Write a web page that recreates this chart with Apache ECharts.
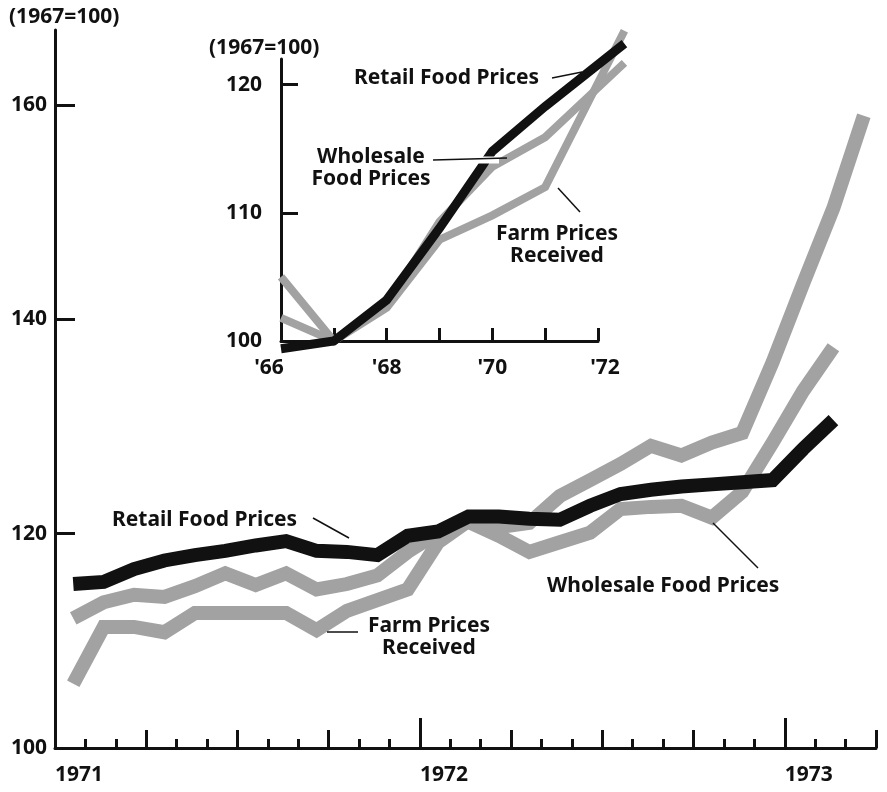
<!DOCTYPE html>
<html>
<head>
<meta charset="utf-8">
<title>Food prices 1971-73</title>
<script src="https://cdn.jsdelivr.net/npm/echarts@6/dist/echarts.min.js"></script>
<style>
html, body { margin: 0; padding: 0; background: #fff; }
#chart { width: 887px; height: 792px; }
</style>
</head>
<body>
<div id="chart"></div>
<script>
// monthly indexes, 1967=100
const months = [
  'Jan 71', 'Feb 71', 'Mar 71', 'Apr 71', 'May 71', 'Jun 71', 'Jul 71', 'Aug 71', 'Sep 71', 'Oct 71', 'Nov 71', 'Dec 71',
  'Jan 72', 'Feb 72', 'Mar 72', 'Apr 72', 'May 72', 'Jun 72', 'Jul 72', 'Aug 72', 'Sep 72', 'Oct 72', 'Nov 72', 'Dec 72',
  'Jan 73', 'Feb 73', 'Mar 73'
]
const retail = [115.3, 115.5, 116.7, 117.5, 118.0, 118.4, 118.9, 119.3, 118.4, 118.3, 118.0, 119.8,
  120.2, 121.6, 121.6, 121.4, 121.3, 122.6, 123.7, 124.1, 124.4, 124.6, 124.8, 125.0, 127.9, 130.6]
const wholesale = [112.1, 113.6, 114.3, 114.1, 115.1, 116.3, 115.2, 116.3, 114.8, 115.3, 116.1, 118.3,
  120.1, 121.1, 119.8, 118.3, 119.2, 120.1, 122.3, 122.5, 122.6, 121.5, 123.9, 128.5, 133.3, 137.4]
const farm = [106.0, 111.3, 111.3, 110.8, 112.6, 112.6, 112.6, 112.6, 111.0, 112.8, 113.8, 114.8,
  119.2, 121.2, 120.6, 121.0, 123.5, 125.0, 126.5, 128.2, 127.3, 128.5, 129.4, 136.0, 143.3, 150.4, 159.0]

const yTicks = [100, 120, 140, 160]
const yearStarts = [0, 12, 24]          // month index where each year begins
const yearLabels = ['1971', '1972', '1973']

// inset: annual averages 1966-72 (last point is drawn past the '72 tick in the original)
const insetYears = [1966, 1967, 1968, 1969, 1970, 1971, 1972.5]
const insetRetail = [99.4, 100.0, 103.2, 108.8, 114.8, 118.3, 123.2]
const insetWholesale = [101.8, 100.0, 102.8, 109.3, 113.6, 115.9, 121.7]
const insetFarm = [105.0, 100.0, 102.6, 107.9, 109.8, 112.0, 124.2]
const insetYTicks = [100, 110, 120]
const insetXTicks = [1967, 1968, 1969, 1970, 1971, 1972]
const insetXLabels = { 1966: "'66", 1968: "'68", 1970: "'70", 1972: "'72" }

const FONT = 'Noto Sans'
const FS = 21
const INK = '#111'
const GRAY = '#a2a2a2'

// points sit a little past mid-month, as plotted in the original
const monthX = months.map((m, i) => i + 0.6)
const pairs = (arr, xs) => arr.map((v, i) => [xs[i], v])

const chart = echarts.init(document.getElementById('chart'))

const labelStyle = { color: INK, fontFamily: FONT, fontWeight: 'bold', fontSize: FS }

// inset frame: 1966..1972 by 100..122 in a 317 x 282 box
// the lines run past that frame, so they get their own hidden axes on the same scale
const IN_LEFT = 281, IN_BOTTOM = 341
const pxYear = 317 / 6, pxUnit = 282 / 22
const dataX = [1965.9, 1972.7], dataY = [99, 124.6]

function tickAxis(values, len, extra) {
  return Object.assign({
    type: 'value', gridIndex: 0, position: 'bottom', min: 0, max: 27,
    axisLine: { show: false },
    axisTick: { show: true, inside: true, length: len, customValues: values, lineStyle: { color: INK, width: 3 } },
    axisLabel: { show: false },
    splitLine: { show: false }
  }, extra || {})
}

const hidden = { axisLine: { show: false }, axisTick: { show: false }, axisLabel: { show: false }, splitLine: { show: false } }

const monthTicks = months.map((m, i) => i).concat([months.length])
const quarterTicks = monthTicks.filter(v => v % 3 === 0)

function lineSeries(name, data, xi, yi, color, width, z) {
  return {
    name, type: 'line', data, xAxisIndex: xi, yAxisIndex: yi,
    showSymbol: false, symbol: 'none', clip: false, silent: true, z,
    lineStyle: { color, width, join: 'miter', cap: 'butt' }
  }
}

// the end labels of the inset sit a bit outside their ticks
function insetLabel(v) {
  const t = insetXLabels[v] || ''
  if (v === 1966) return '{l|' + t + '}'
  if (v === 1972) return '{r|' + t + '}'
  return t
}

const option = {
  animation: false,
  backgroundColor: '#fff',
  grid: [
    { left: 55, top: 30, right: 11, bottom: 44, outerBoundsMode: 'none' },
    { left: IN_LEFT, top: IN_BOTTOM - 22 * pxUnit, width: 317, height: 282, outerBoundsMode: 'none' },
    {
      left: IN_LEFT - (1966 - dataX[0]) * pxYear,
      top: IN_BOTTOM - (dataY[1] - 100) * pxUnit,
      width: (dataX[1] - dataX[0]) * pxYear,
      height: (dataY[1] - dataY[0]) * pxUnit,
      outerBoundsMode: 'none'
    }
  ],
  xAxis: [
    tickAxis(monthTicks, 9, {
      axisLine: { show: true, lineStyle: { color: INK, width: 3 } },
      axisLabel: Object.assign({
        show: true, customValues: yearStarts, align: 'left', margin: 17,
        formatter: v => yearLabels[yearStarts.indexOf(v)] || ''
      }, labelStyle)
    }),
    tickAxis(quarterTicks, 18),
    tickAxis(yearStarts, 30),
    {
      type: 'value', gridIndex: 1, position: 'bottom', min: 1966, max: 1972,
      axisLine: { show: true, lineStyle: { color: INK, width: 3 } },
      axisTick: { show: true, inside: true, length: 13, customValues: insetXTicks, lineStyle: { color: INK, width: 3 } },
      axisLabel: Object.assign({
        show: true, customValues: [1966, 1968, 1970, 1972], margin: 17,
        formatter: insetLabel,
        rich: {
          l: Object.assign({ padding: [0, 24, 0, 0] }, labelStyle),
          r: Object.assign({ padding: [0, 0, 0, 14] }, labelStyle)
        }
      }, labelStyle),
      splitLine: { show: false }
    },
    Object.assign({ type: 'value', gridIndex: 2, position: 'bottom', min: dataX[0], max: dataX[1] }, hidden)
  ],
  yAxis: [
    {
      type: 'value', gridIndex: 0, min: 100, max: 167,
      axisLine: { show: true, lineStyle: { color: INK, width: 3 } },
      axisTick: { show: true, inside: true, length: 20, customValues: yTicks.slice(1), lineStyle: { color: INK, width: 3 } },
      axisLabel: Object.assign({ customValues: yTicks, margin: 8 }, labelStyle),
      splitLine: { show: false }
    },
    {
      type: 'value', gridIndex: 1, min: 100, max: 122,
      axisLine: { show: true, lineStyle: { color: INK, width: 3 } },
      axisTick: { show: true, inside: true, length: 17, customValues: insetYTicks.slice(1), lineStyle: { color: INK, width: 3 } },
      axisLabel: Object.assign({ customValues: insetYTicks, margin: 19 }, labelStyle),
      splitLine: { show: false }
    },
    Object.assign({ type: 'value', gridIndex: 2, min: dataY[0], max: dataY[1] }, hidden)
  ],
  series: [
    lineSeries('Farm Prices Received', pairs(farm, monthX), 0, 0, GRAY, 14, 2),
    lineSeries('Wholesale Food Prices', pairs(wholesale, monthX), 0, 0, GRAY, 14, 3),
    lineSeries('Retail Food Prices', pairs(retail, monthX), 0, 0, INK, 14, 4),
    lineSeries('Farm Prices Received (annual)', pairs(insetFarm, insetYears), 4, 2, GRAY, 8, 2),
    lineSeries('Wholesale Food Prices (annual)', pairs(insetWholesale, insetYears), 4, 2, GRAY, 8, 3),
    lineSeries('Retail Food Prices (annual)', pairs(insetRetail, insetYears), 4, 2, INK, 9, 4)
  ],
  graphic: [
    // text labels and leader lines
    txt('(1967=100)', 9, 17, 'left'),
    txt('Retail Food Prices', 112, 520, 'left'),
    lead(313, 518, 349, 538),
    txt('Farm Prices\nReceived', 429, 637, 'center'),
    lead(327, 632, 358, 632),
    txt('Wholesale Food Prices', 547, 586, 'left'),
    lead(713, 523, 758, 568),

    txt('(1967=100)', 209, 48, 'left'),
    txt('Retail Food Prices', 354, 78, 'left'),
    lead(552, 78, 582, 72),
    txt('Wholesale\nFood Prices', 371, 168, 'center'),
    { type: 'line', z: 99, shape: { x1: 477, y1: 160, x2: 499, y2: 160 }, style: { stroke: '#fff', lineWidth: 7 } },
    lead(433, 160, 507, 158),
    txt('Farm Prices\nReceived', 557, 245, 'center'),
    lead(558, 188, 580, 212)
  ]
}

function txt(text, x, y, align) {
  return {
    type: 'text', x, y, z: 100,
    style: {
      text, fill: INK, fontFamily: FONT, fontWeight: 'bold', fontSize: FS, lineHeight: 22,
      textAlign: align, textVerticalAlign: 'middle'
    }
  }
}

function lead(x1, y1, x2, y2) {
  return { type: 'line', z: 100, shape: { x1, y1, x2, y2 }, style: { stroke: INK, lineWidth: 1.5 } }
}

chart.setOption(option)
</script>
</body>
</html>
